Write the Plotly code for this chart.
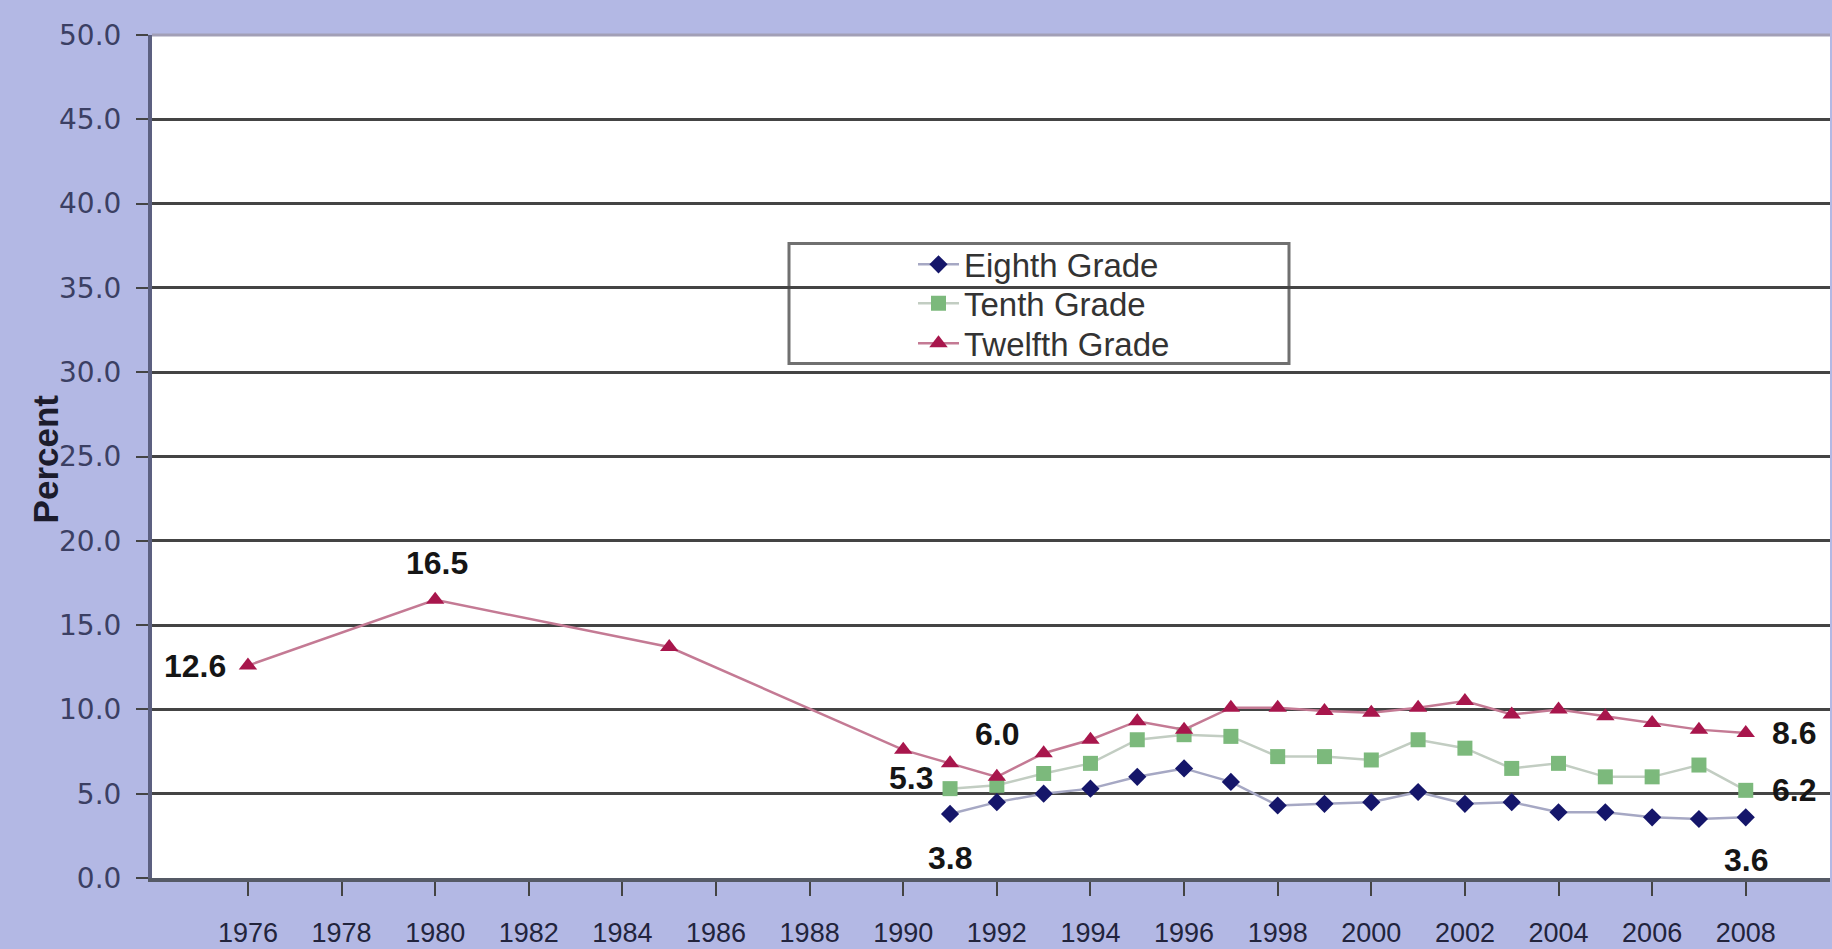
import plotly.graph_objects as go

# ---------------- data ----------------
years_8 = [1991, 1992, 1993, 1994, 1995, 1996, 1997, 1998, 1999, 2000,
           2001, 2002, 2003, 2004, 2005, 2006, 2007, 2008]
eighth = [3.8, 4.5, 5.0, 5.3, 6.0, 6.5, 5.7, 4.3, 4.4, 4.5,
          5.1, 4.4, 4.5, 3.9, 3.9, 3.6, 3.5, 3.6]

years_10 = years_8
tenth = [5.3, 5.5, 6.2, 6.8, 8.2, 8.5, 8.4, 7.2, 7.2, 7.0,
         8.2, 7.7, 6.5, 6.8, 6.0, 6.0, 6.7, 5.2]

years_12 = [1976, 1980, 1985, 1990, 1991, 1992, 1993, 1994, 1995, 1996, 1997,
            1998, 1999, 2000, 2001, 2002, 2003, 2004, 2005, 2006, 2007, 2008]
twelfth = [12.6, 16.5, 13.7, 7.6, 6.8, 6.0, 7.4, 8.2, 9.3, 8.8, 10.1,
           10.1, 9.9, 9.8, 10.1, 10.5, 9.7, 10.0, 9.6, 9.2, 8.8, 8.6]

series_names = ["Eighth Grade", "Tenth Grade", "Twelfth Grade"]

y_ticks = [0, 5, 10, 15, 20, 25, 30, 35, 40, 45, 50]
x_ticks = list(range(1976, 2009, 2))

# data labels: (series index, year, text)
label_series = [2, 2, 1, 2, 0, 2, 1, 0]
label_years = [1976, 1980, 1991, 1992, 1991, 2008, 2008, 2008]
label_texts = ["12.6", "16.5", "5.3", "6.0", "3.8", "8.6", "6.2", "3.6"]

# ---------------- layout geometry ----------------
FW, FH = 1832, 949
L, R, T, B = 152, 1830, 34.6, 877.6
PW, PH = R - L, B - T


def px2x(px):
    return (px - L) / PW


def py2y(py):
    return (B - py) / PH


BG = "#b3b8e4"

fig = go.Figure()

fig.add_trace(go.Scatter(
    x=years_8, y=eighth, name=series_names[0], mode="lines+markers",
    line=dict(color="#a6a8c4", width=2.5),
    marker=dict(symbol="diamond", size=14, color="#15166a"),
    legend="legend",
))
fig.add_trace(go.Scatter(
    x=years_10, y=tenth, name=series_names[1], mode="lines+markers",
    line=dict(color="#c2cdc2", width=2.5),
    marker=dict(symbol="square", size=15, color="#7cb97c"),
    legend="legend2",
))
fig.add_trace(go.Scatter(
    x=years_12, y=twelfth, name=series_names[2], mode="lines+markers",
    line=dict(color="#c47a94", width=2.5),
    marker=dict(symbol="triangle-up", size=16, color="#a8164c"),
    legend="legend3",
))

series_x = [years_8, years_10, years_12]
series_y = [eighth, tenth, twelfth]

# label placement style: (xanchor, yanchor, xshift, yshift)
label_style = [
    ("right", "middle", -20, 0),
    ("center", "middle", 2, 37),
    ("right", "middle", -15, 11),
    ("center", "middle", 0, 43),
    ("center", "middle", 0, -44),
    ("left", "middle", 24, 0),
    ("left", "middle", 24, 0),
    ("center", "middle", 0, -43),
]

annotations = []
for s, yr, txt, st in zip(label_series, label_years, label_texts, label_style):
    yv = series_y[s][series_x[s].index(yr)]
    annotations.append(dict(
        x=yr, y=yv, xref="x", yref="y", text="<b>%s</b>" % txt, showarrow=False,
        xanchor=st[0], yanchor=st[1], xshift=st[2], yshift=st[3],
        font=dict(family="Liberation Sans, Arial", size=32, color="#151515"),
    ))

annotations.append(dict(
    x=px2x(45), y=py2y(458), xref="paper", yref="paper", text="<b>Percent</b>",
    showarrow=False, textangle=-90, xanchor="center", yanchor="middle",
    font=dict(family="Liberation Sans, Arial", size=35, color="#1c1c2c"),
))

shapes = [
    # legend box
    dict(type="rect", xref="paper", yref="paper",
         x0=px2x(789), x1=px2x(1289), y0=py2y(363), y1=py2y(243),
         fillcolor="white", line=dict(color="#707070", width=3), layer="below"),
    # top border of plot area
    dict(type="line", xref="paper", yref="paper", x0=0, x1=1, y0=1, y1=1,
         line=dict(color="#a29fb6", width=3)),
]

legend_font = dict(family="Liberation Sans, Arial", size=33, color="#333333")
legend_common = dict(xanchor="left", yanchor="top", bgcolor="rgba(0,0,0,0)",
                     borderwidth=0, itemwidth=41, font=legend_font)
row_tops = [236, 275, 315]

fig.update_layout(
    width=FW, height=FH,
    margin=dict(l=L, r=FW - R, t=T, b=FH - B, autoexpand=False),
    paper_bgcolor=BG, plot_bgcolor="white",
    showlegend=True,
    legend=dict(x=px2x(913), y=py2y(row_tops[0]), **legend_common),
    legend2=dict(x=px2x(913), y=py2y(row_tops[1]), **legend_common),
    legend3=dict(x=px2x(913), y=py2y(row_tops[2]), **legend_common),
    annotations=annotations,
    shapes=shapes,
    xaxis=dict(
        range=[1973.95, 2009.8], tickmode="array", tickvals=x_ticks,
        ticktext=[str(v) for v in x_ticks],
        showgrid=False, zeroline=False,
        showline=True, linecolor="#555a66", linewidth=4,
        ticks="outside", ticklen=14, tickwidth=2, tickcolor="#444",
        ticklabelstandoff=14,
        tickfont=dict(family="Liberation Sans, Arial", size=27, color="#22243c"),
    ),
    yaxis=dict(
        range=[0, 50], tickmode="array", tickvals=y_ticks,
        ticktext=["%.1f" % v for v in y_ticks],
        showgrid=True, gridcolor="#444444", gridwidth=2.5,
        zeroline=False,
        showline=True, linecolor="#5c6080", linewidth=4,
        ticks="outside", ticklen=12, tickwidth=2, tickcolor="#444",
        ticklabelstandoff=9,
        tickfont=dict(family="DejaVu Sans", size=28, color="#3b3f63"),
    ),
)

fig.write_html(
    "out.html",
    config={"displayModeBar": False},
    post_script="document.body.style.margin='0';document.body.style.overflow='hidden';",
)
